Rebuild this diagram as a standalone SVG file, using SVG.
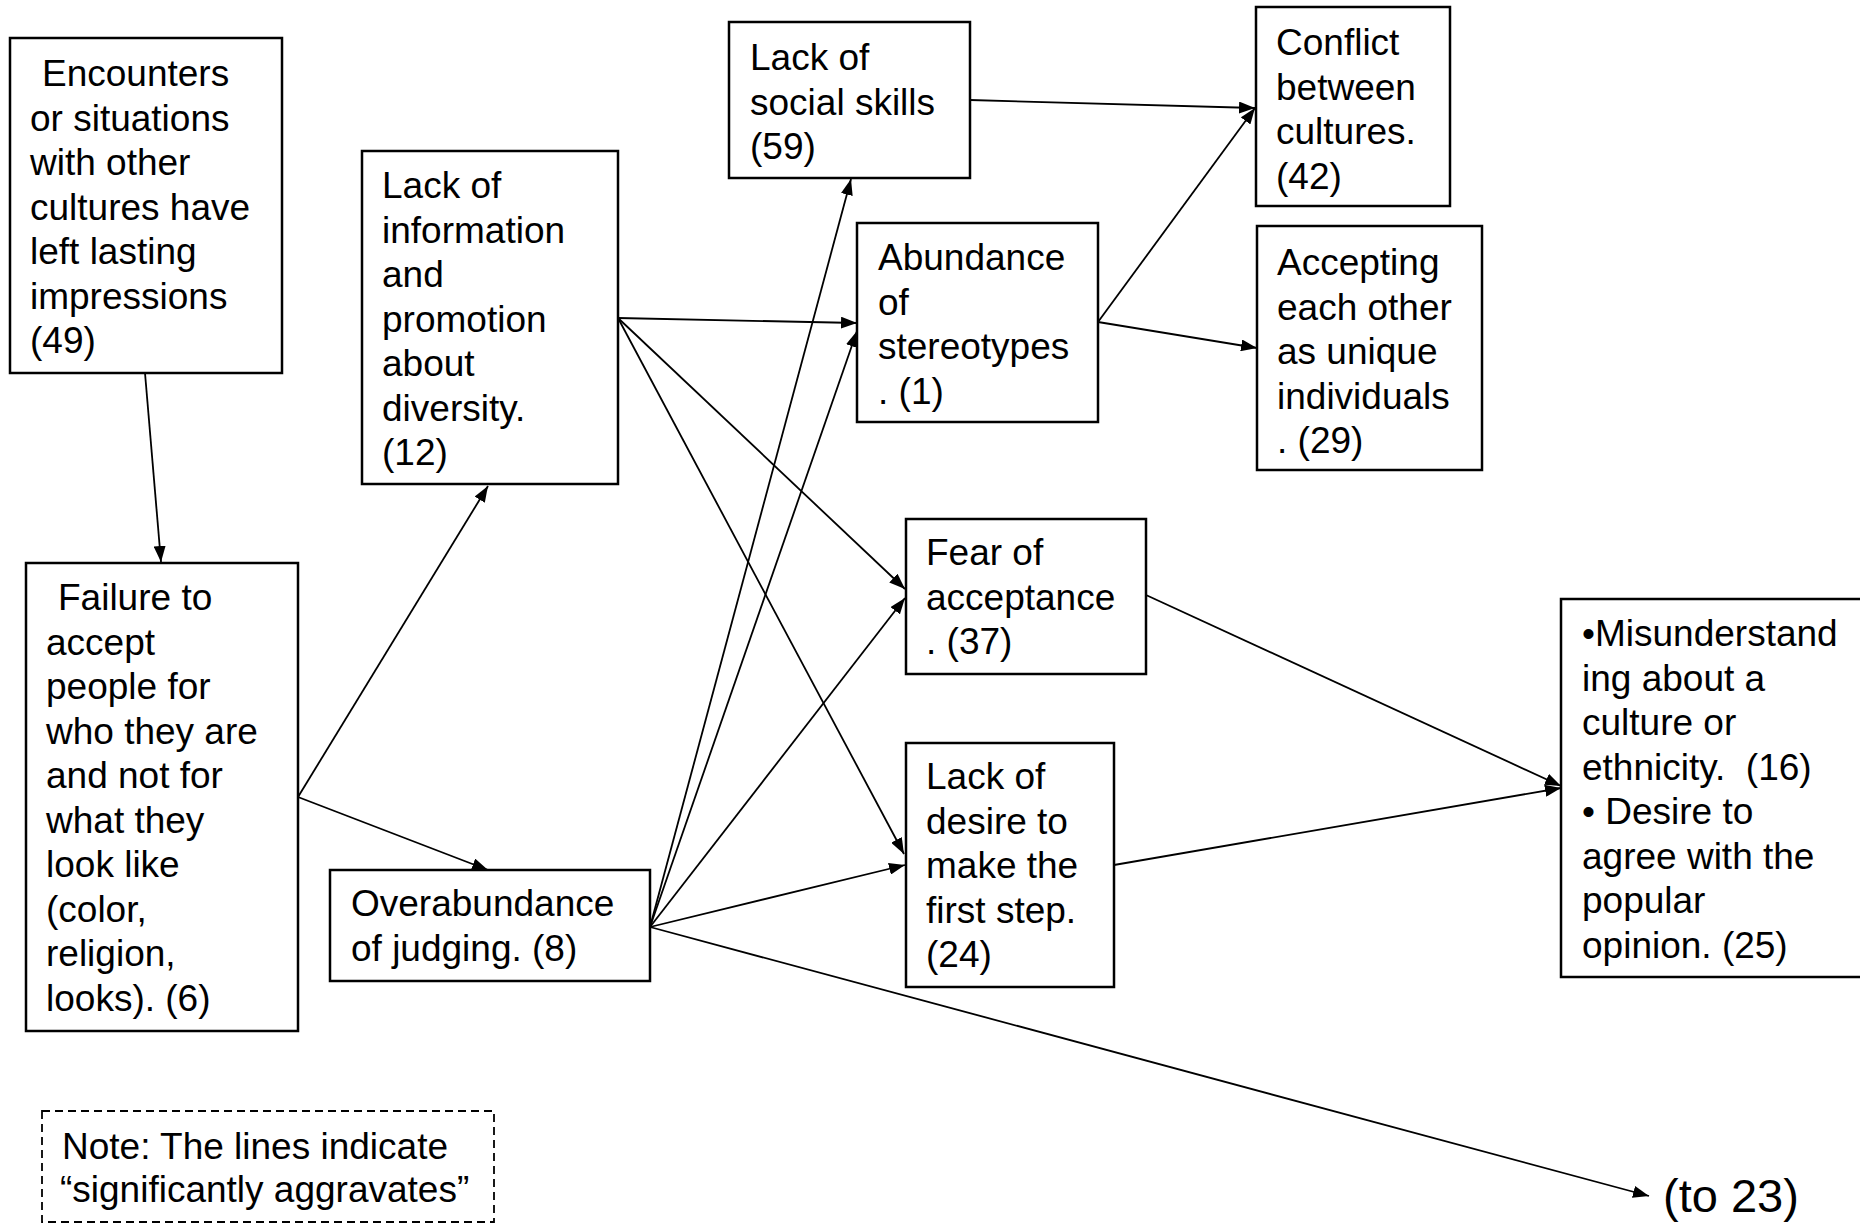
<svg xmlns="http://www.w3.org/2000/svg" width="1860" height="1225" viewBox="0 0 1860 1225">
<style>
.box{fill:#fff;stroke:#000;stroke-width:2.5}
.t{font-family:"Liberation Sans",Arial,sans-serif;font-size:37px;fill:#000}
.c{stroke:#000;stroke-width:1.8;fill:none;marker-end:url(#ah)}
</style>
<defs>
<marker id="ah" markerUnits="userSpaceOnUse" markerWidth="16" markerHeight="12" refX="16" refY="6" orient="auto">
<path d="M0,0 L16,6 L0,12 z" fill="#000"/>
</marker>
</defs>
<rect width="1860" height="1225" fill="#fff"/>
<g id="connectors">
<line class="c" x1="145" y1="373" x2="161" y2="562"/>
<line class="c" x1="298" y1="797" x2="488" y2="486"/>
<line class="c" x1="298" y1="797" x2="488" y2="870"/>
<line class="c" x1="618" y1="318" x2="857" y2="323"/>
<line class="c" x1="618" y1="318" x2="905" y2="589"/>
<line class="c" x1="618" y1="318" x2="904" y2="854"/>
<line class="c" x1="970" y1="100" x2="1255" y2="108"/>
<line class="c" x1="1098" y1="322" x2="1255" y2="108"/>
<line class="c" x1="1098" y1="322" x2="1257" y2="348"/>
<line class="c" x1="650" y1="927" x2="851" y2="179"/>
<line class="c" x1="650" y1="927" x2="857" y2="331"/>
<line class="c" x1="650" y1="927" x2="905" y2="598"/>
<line class="c" x1="650" y1="927" x2="905" y2="865"/>
<line class="c" x1="650" y1="927" x2="1649" y2="1196"/>
<line class="c" x1="1146" y1="595" x2="1561" y2="786"/>
<line class="c" x1="1114" y1="865" x2="1561" y2="788"/>
</g>
<g id="n49">
<rect class="box" x="10" y="38" width="272" height="335"/>
<text class="t"><tspan x="42" y="86">Encounters</tspan><tspan x="30" y="130.5">or situations</tspan><tspan x="30" y="175">with other</tspan><tspan x="30" y="219.5">cultures have</tspan><tspan x="30" y="264">left lasting</tspan><tspan x="30" y="308.5">impressions</tspan><tspan x="30" y="353">(49)</tspan></text>
</g>
<g id="n12">
<rect class="box" x="362" y="151" width="256" height="333"/>
<text class="t"><tspan x="382" y="198">Lack of</tspan><tspan x="382" y="242.5">information</tspan><tspan x="382" y="287">and</tspan><tspan x="382" y="331.5">promotion</tspan><tspan x="382" y="376">about</tspan><tspan x="382" y="420.5">diversity.</tspan><tspan x="382" y="465">(12)</tspan></text>
</g>
<g id="n59">
<rect class="box" x="729" y="22" width="241" height="156"/>
<text class="t"><tspan x="750" y="70">Lack of</tspan><tspan x="750" y="114.5">social skills</tspan><tspan x="750" y="159">(59)</tspan></text>
</g>
<g id="n1">
<rect class="box" x="857" y="223" width="241" height="199"/>
<text class="t"><tspan x="878" y="270">Abundance</tspan><tspan x="878" y="314.5">of</tspan><tspan x="878" y="359">stereotypes</tspan><tspan x="878" y="403.5">. (1)</tspan></text>
</g>
<g id="n42">
<rect class="box" x="1256" y="7" width="194" height="199"/>
<text class="t"><tspan x="1276" y="55">Conflict</tspan><tspan x="1276" y="99.5">between</tspan><tspan x="1276" y="144">cultures.</tspan><tspan x="1276" y="188.5">(42)</tspan></text>
</g>
<g id="n29">
<rect class="box" x="1257" y="226" width="225" height="244"/>
<text class="t"><tspan x="1277" y="275">Accepting</tspan><tspan x="1277" y="319.5">each other</tspan><tspan x="1277" y="364">as unique</tspan><tspan x="1277" y="408.5">individuals</tspan><tspan x="1277" y="453">. (29)</tspan></text>
</g>
<g id="n6">
<rect class="box" x="26" y="563" width="272" height="468"/>
<text class="t"><tspan x="58" y="610">Failure to</tspan><tspan x="46" y="654.5">accept</tspan><tspan x="46" y="699">people for</tspan><tspan x="46" y="743.5">who they are</tspan><tspan x="46" y="788">and not for</tspan><tspan x="46" y="832.5">what they</tspan><tspan x="46" y="877">look like</tspan><tspan x="46" y="921.5">(color,</tspan><tspan x="46" y="966">religion,</tspan><tspan x="46" y="1010.5">looks). (6)</tspan></text>
</g>
<g id="n8">
<rect class="box" x="330" y="870" width="320" height="111"/>
<text class="t"><tspan x="351" y="916">Overabundance</tspan><tspan x="351" y="960.5">of judging. (8)</tspan></text>
</g>
<g id="n37">
<rect class="box" x="906" y="519" width="240" height="155"/>
<text class="t"><tspan x="926" y="565">Fear of</tspan><tspan x="926" y="609.5">acceptance</tspan><tspan x="926" y="654">. (37)</tspan></text>
</g>
<g id="n24">
<rect class="box" x="906" y="743" width="208" height="244"/>
<text class="t"><tspan x="926" y="789">Lack of</tspan><tspan x="926" y="833.5">desire to</tspan><tspan x="926" y="878">make the</tspan><tspan x="926" y="922.5">first step.</tspan><tspan x="926" y="967">(24)</tspan></text>
</g>
<g id="n16">
<rect class="box" x="1561" y="599" width="302" height="378"/>
<text class="t"><tspan x="1582" y="646">•Misunderstand</tspan><tspan x="1582" y="690.5">ing about a</tspan><tspan x="1582" y="735">culture or</tspan><tspan x="1582" y="779.5">ethnicity.&#160; (16)</tspan><tspan x="1582" y="824">• Desire to</tspan><tspan x="1582" y="868.5">agree with the</tspan><tspan x="1582" y="913">popular</tspan><tspan x="1582" y="957.5">opinion. (25)</tspan></text>
</g>
<g id="note">
<rect x="42" y="1111" width="452" height="111" fill="#fff" stroke="#000" stroke-width="1.8" stroke-dasharray="8,5"/>
<text class="t"><tspan x="62" y="1159">Note: The lines indicate</tspan><tspan x="60" y="1202">“significantly aggravates”</tspan></text>
</g>
<g id="to23">
<text class="t" x="1663" y="1212" style="font-size:47px">(to 23)</text>
</g>
</svg>
